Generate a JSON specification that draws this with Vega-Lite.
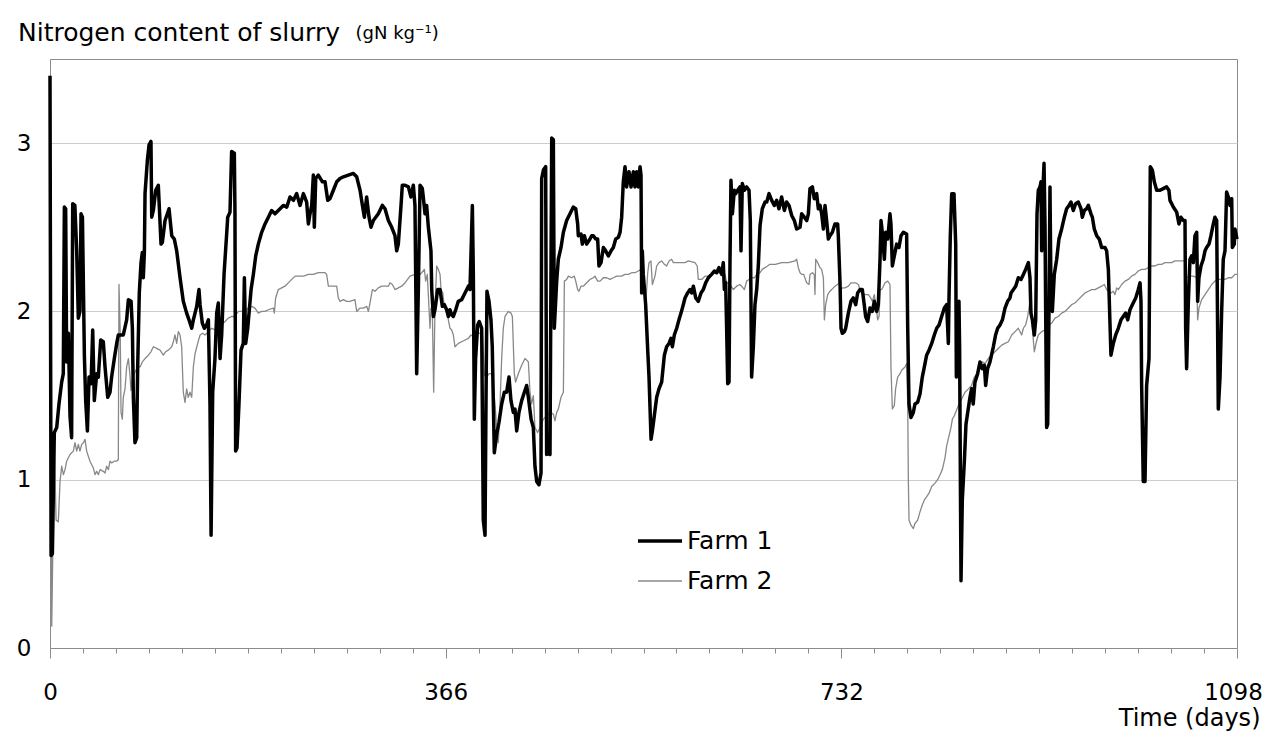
{
"$schema": "https://vega.github.io/schema/vega-lite/v6.json",
"width": 1187, "height": 589,
"autosize": {"type": "none"},
"padding": {"left": 50, "top": 59, "right": 27, "bottom": 94},
"background": "white",
"config": {"font": "DejaVu Sans", "view": {"stroke": "#8c8c8c", "strokeWidth": 1}},
"title": {"text": "Nitrogen content of slurry", "anchor": "start", "frame": "group", "dx": -32, "offset": -42, "baseline": "alphabetic", "fontSize": 25, "fontWeight": "normal", "color": "#000000", "font": "DejaVu Sans"},
"data": {"values": [
{"farm":"Farm 2","day":0,"n":3.4},{"farm":"Farm 2","day":1.6,"n":0.13},{"farm":"Farm 2","day":4,"n":1.22},{"farm":"Farm 2","day":5.6,"n":0.76},{"farm":"Farm 2","day":7.7,"n":0.75},{"farm":"Farm 2","day":9.3,"n":0.99},{"farm":"Farm 2","day":10.8,"n":1.08},{"farm":"Farm 2","day":12.4,"n":1.03},{"farm":"Farm 2","day":13.9,"n":1.06},{"farm":"Farm 2","day":15.4,"n":1.11},{"farm":"Farm 2","day":18.5,"n":1.15},{"farm":"Farm 2","day":21.6,"n":1.17},{"farm":"Farm 2","day":23.1,"n":1.22},{"farm":"Farm 2","day":24.7,"n":1.17},{"farm":"Farm 2","day":26.2,"n":1.21},{"farm":"Farm 2","day":27.7,"n":1.17},{"farm":"Farm 2","day":29.3,"n":1.21},{"farm":"Farm 2","day":30.9,"n":1.22},{"farm":"Farm 2","day":32.4,"n":1.24},{"farm":"Farm 2","day":33.9,"n":1.17},{"farm":"Farm 2","day":37,"n":1.11},{"farm":"Farm 2","day":40.1,"n":1.07},{"farm":"Farm 2","day":41.6,"n":1.03},{"farm":"Farm 2","day":43.2,"n":1.05},{"farm":"Farm 2","day":44.7,"n":1.03},{"farm":"Farm 2","day":46.3,"n":1.06},{"farm":"Farm 2","day":49.3,"n":1.05},{"farm":"Farm 2","day":50.9,"n":1.04},{"farm":"Farm 2","day":52.4,"n":1.08},{"farm":"Farm 2","day":54,"n":1.06},{"farm":"Farm 2","day":55.5,"n":1.11},{"farm":"Farm 2","day":57,"n":1.1},{"farm":"Farm 2","day":59.5,"n":1.11},{"farm":"Farm 2","day":61.7,"n":1.11},{"farm":"Farm 2","day":63.2,"n":1.12},{"farm":"Farm 2","day":63.8,"n":2.16},{"farm":"Farm 2","day":65,"n":1.86},{"farm":"Farm 2","day":65.7,"n":1.4},{"farm":"Farm 2","day":66.9,"n":1.36},{"farm":"Farm 2","day":67.8,"n":1.49},{"farm":"Farm 2","day":69.4,"n":1.54},{"farm":"Farm 2","day":70.9,"n":1.67},{"farm":"Farm 2","day":72.5,"n":1.72},{"farm":"Farm 2","day":74,"n":1.62},{"farm":"Farm 2","day":74.9,"n":1.53},{"farm":"Farm 2","day":76.2,"n":1.6},{"farm":"Farm 2","day":77.1,"n":1.61},{"farm":"Farm 2","day":78.6,"n":1.64},{"farm":"Farm 2","day":81.1,"n":1.67},{"farm":"Farm 2","day":83.3,"n":1.67},{"farm":"Farm 2","day":85.4,"n":1.7},{"farm":"Farm 2","day":87.9,"n":1.72},{"farm":"Farm 2","day":91,"n":1.74},{"farm":"Farm 2","day":93.4,"n":1.76},{"farm":"Farm 2","day":95.6,"n":1.79},{"farm":"Farm 2","day":98.7,"n":1.78},{"farm":"Farm 2","day":101.8,"n":1.77},{"farm":"Farm 2","day":104.8,"n":1.74},{"farm":"Farm 2","day":106.9,"n":1.76},{"farm":"Farm 2","day":109.5,"n":1.77},{"farm":"Farm 2","day":112.6,"n":1.79},{"farm":"Farm 2","day":114.1,"n":1.82},{"farm":"Farm 2","day":115.6,"n":1.86},{"farm":"Farm 2","day":117.2,"n":1.81},{"farm":"Farm 2","day":118.7,"n":1.88},{"farm":"Farm 2","day":120.3,"n":1.86},{"farm":"Farm 2","day":121.8,"n":1.79},{"farm":"Farm 2","day":123.3,"n":1.52},{"farm":"Farm 2","day":124.9,"n":1.46},{"farm":"Farm 2","day":126.4,"n":1.54},{"farm":"Farm 2","day":127.9,"n":1.49},{"farm":"Farm 2","day":129.5,"n":1.52},{"farm":"Farm 2","day":131.1,"n":1.49},{"farm":"Farm 2","day":132.6,"n":1.67},{"farm":"Farm 2","day":134.2,"n":1.75},{"farm":"Farm 2","day":136.6,"n":1.81},{"farm":"Farm 2","day":138.8,"n":1.86},{"farm":"Farm 2","day":141.2,"n":1.87},{"farm":"Farm 2","day":143.4,"n":1.86},{"farm":"Farm 2","day":146.5,"n":1.88},{"farm":"Farm 2","day":149.6,"n":1.9},{"farm":"Farm 2","day":152.6,"n":1.89},{"farm":"Farm 2","day":155.7,"n":1.91},{"farm":"Farm 2","day":158.8,"n":1.92},{"farm":"Farm 2","day":161.9,"n":1.94},{"farm":"Farm 2","day":165,"n":1.96},{"farm":"Farm 2","day":168,"n":1.97},{"farm":"Farm 2","day":171.1,"n":1.97},{"farm":"Farm 2","day":174.2,"n":2},{"farm":"Farm 2","day":177.3,"n":2},{"farm":"Farm 2","day":180.4,"n":2},{"farm":"Farm 2","day":183.4,"n":2.02},{"farm":"Farm 2","day":186.5,"n":2.03},{"farm":"Farm 2","day":189.6,"n":2.02},{"farm":"Farm 2","day":192.7,"n":1.99},{"farm":"Farm 2","day":195.8,"n":2},{"farm":"Farm 2","day":198.9,"n":2},{"farm":"Farm 2","day":202,"n":2.01},{"farm":"Farm 2","day":206.6,"n":2.02},{"farm":"Farm 2","day":207.5,"n":1.99},{"farm":"Farm 2","day":208.7,"n":2.08},{"farm":"Farm 2","day":211.2,"n":2.13},{"farm":"Farm 2","day":214.3,"n":2.14},{"farm":"Farm 2","day":217.4,"n":2.15},{"farm":"Farm 2","day":222,"n":2.18},{"farm":"Farm 2","day":226.7,"n":2.21},{"farm":"Farm 2","day":231.3,"n":2.21},{"farm":"Farm 2","day":234.4,"n":2.21},{"farm":"Farm 2","day":239,"n":2.22},{"farm":"Farm 2","day":243.6,"n":2.22},{"farm":"Farm 2","day":248.2,"n":2.23},{"farm":"Farm 2","day":254.4,"n":2.23},{"farm":"Farm 2","day":255.9,"n":2.22},{"farm":"Farm 2","day":257.5,"n":2.15},{"farm":"Farm 2","day":262.1,"n":2.15},{"farm":"Farm 2","day":265.2,"n":2.15},{"farm":"Farm 2","day":266.7,"n":2.08},{"farm":"Farm 2","day":268.3,"n":2.06},{"farm":"Farm 2","day":271.4,"n":2.07},{"farm":"Farm 2","day":274.4,"n":2.06},{"farm":"Farm 2","day":277.5,"n":2.06},{"farm":"Farm 2","day":282.1,"n":2.07},{"farm":"Farm 2","day":283.7,"n":2},{"farm":"Farm 2","day":286.8,"n":2.02},{"farm":"Farm 2","day":289.9,"n":2.02},{"farm":"Farm 2","day":293,"n":2.03},{"farm":"Farm 2","day":294.5,"n":2},{"farm":"Farm 2","day":296,"n":2.05},{"farm":"Farm 2","day":298.2,"n":2.13},{"farm":"Farm 2","day":300.6,"n":2.12},{"farm":"Farm 2","day":303.7,"n":2.14},{"farm":"Farm 2","day":306.8,"n":2.15},{"farm":"Farm 2","day":309.9,"n":2.15},{"farm":"Farm 2","day":313,"n":2.15},{"farm":"Farm 2","day":314.5,"n":2.17},{"farm":"Farm 2","day":316.7,"n":2.16},{"farm":"Farm 2","day":319.1,"n":2.13},{"farm":"Farm 2","day":322.2,"n":2.14},{"farm":"Farm 2","day":325.3,"n":2.15},{"farm":"Farm 2","day":328.4,"n":2.17},{"farm":"Farm 2","day":333,"n":2.21},{"farm":"Farm 2","day":337.6,"n":2.22},{"farm":"Farm 2","day":342.3,"n":2.22},{"farm":"Farm 2","day":343.8,"n":2.23},{"farm":"Farm 2","day":346.3,"n":2.25},{"farm":"Farm 2","day":347.5,"n":2.18},{"farm":"Farm 2","day":349,"n":2.22},{"farm":"Farm 2","day":350.6,"n":2.02},{"farm":"Farm 2","day":351.5,"n":1.9},{"farm":"Farm 2","day":352.4,"n":2.02},{"farm":"Farm 2","day":353.7,"n":1.99},{"farm":"Farm 2","day":354.9,"n":1.52},{"farm":"Farm 2","day":356.1,"n":2.02},{"farm":"Farm 2","day":357.7,"n":2.27},{"farm":"Farm 2","day":359.2,"n":2.25},{"farm":"Farm 2","day":360.8,"n":2.22},{"farm":"Farm 2","day":361.7,"n":2.13},{"farm":"Farm 2","day":363.3,"n":2.11},{"farm":"Farm 2","day":364.8,"n":2.02},{"farm":"Farm 2","day":367,"n":2.02},{"farm":"Farm 2","day":368.5,"n":1.95},{"farm":"Farm 2","day":370,"n":1.9},{"farm":"Farm 2","day":371.6,"n":1.89},{"farm":"Farm 2","day":373.1,"n":1.86},{"farm":"Farm 2","day":374.6,"n":1.79},{"farm":"Farm 2","day":376.2,"n":1.8},{"farm":"Farm 2","day":377.7,"n":1.81},{"farm":"Farm 2","day":380.8,"n":1.82},{"farm":"Farm 2","day":383.9,"n":1.83},{"farm":"Farm 2","day":387,"n":1.84},{"farm":"Farm 2","day":389.4,"n":1.86},{"farm":"Farm 2","day":391.6,"n":1.85},{"farm":"Farm 2","day":393.1,"n":1.87},{"farm":"Farm 2","day":397.8,"n":1.87},{"farm":"Farm 2","day":399.9,"n":1.88},{"farm":"Farm 2","day":401.8,"n":1.62},{"farm":"Farm 2","day":404,"n":1.61},{"farm":"Farm 2","day":406.1,"n":1.63},{"farm":"Farm 2","day":408,"n":1.63},{"farm":"Farm 2","day":409.2,"n":1.61},{"farm":"Farm 2","day":411.6,"n":1.45},{"farm":"Farm 2","day":413.2,"n":1.31},{"farm":"Farm 2","day":414.7,"n":1.22},{"farm":"Farm 2","day":416.3,"n":1.45},{"farm":"Farm 2","day":417.8,"n":1.72},{"farm":"Farm 2","day":419.3,"n":1.9},{"farm":"Farm 2","day":420.9,"n":1.97},{"farm":"Farm 2","day":424,"n":2},{"farm":"Farm 2","day":426.4,"n":1.99},{"farm":"Farm 2","day":427.7,"n":1.97},{"farm":"Farm 2","day":429.5,"n":1.63},{"farm":"Farm 2","day":430.7,"n":1.58},{"farm":"Farm 2","day":433.2,"n":1.63},{"farm":"Farm 2","day":436.3,"n":1.68},{"farm":"Farm 2","day":439.4,"n":1.72},{"farm":"Farm 2","day":442.5,"n":1.7},{"farm":"Farm 2","day":444,"n":1.52},{"farm":"Farm 2","day":445.5,"n":1.45},{"farm":"Farm 2","day":447.1,"n":1.5},{"farm":"Farm 2","day":448.6,"n":1.31},{"farm":"Farm 2","day":451.1,"n":1.28},{"farm":"Farm 2","day":453.3,"n":1.31},{"farm":"Farm 2","day":456.4,"n":1.36},{"farm":"Farm 2","day":459.4,"n":1.38},{"farm":"Farm 2","day":462.5,"n":1.4},{"farm":"Farm 2","day":465.6,"n":1.39},{"farm":"Farm 2","day":467.1,"n":1.35},{"farm":"Farm 2","day":468.7,"n":1.4},{"farm":"Farm 2","day":470.2,"n":1.42},{"farm":"Farm 2","day":472.7,"n":1.49},{"farm":"Farm 2","day":474.9,"n":1.52},{"farm":"Farm 2","day":475.8,"n":2.18},{"farm":"Farm 2","day":477.9,"n":2.19},{"farm":"Farm 2","day":479.5,"n":2.21},{"farm":"Farm 2","day":482.5,"n":2.2},{"farm":"Farm 2","day":485,"n":2.21},{"farm":"Farm 2","day":486.3,"n":2.18},{"farm":"Farm 2","day":488.1,"n":2.13},{"farm":"Farm 2","day":489.3,"n":2.12},{"farm":"Farm 2","day":491.2,"n":2.15},{"farm":"Farm 2","day":493.4,"n":2.15},{"farm":"Farm 2","day":496.4,"n":2.17},{"farm":"Farm 2","day":499.5,"n":2.19},{"farm":"Farm 2","day":502.6,"n":2.2},{"farm":"Farm 2","day":504.1,"n":2.21},{"farm":"Farm 2","day":506.6,"n":2.18},{"farm":"Farm 2","day":508.8,"n":2.18},{"farm":"Farm 2","day":511.9,"n":2.2},{"farm":"Farm 2","day":514.9,"n":2.2},{"farm":"Farm 2","day":518,"n":2.19},{"farm":"Farm 2","day":521.1,"n":2.2},{"farm":"Farm 2","day":524.2,"n":2.21},{"farm":"Farm 2","day":528.8,"n":2.21},{"farm":"Farm 2","day":531.9,"n":2.22},{"farm":"Farm 2","day":535,"n":2.22},{"farm":"Farm 2","day":538.1,"n":2.23},{"farm":"Farm 2","day":541.1,"n":2.23},{"farm":"Farm 2","day":544.2,"n":2.24},{"farm":"Farm 2","day":546.7,"n":2.25},{"farm":"Farm 2","day":548.8,"n":2.23},{"farm":"Farm 2","day":551,"n":2.04},{"farm":"Farm 2","day":552.9,"n":2.23},{"farm":"Farm 2","day":554.1,"n":2.29},{"farm":"Farm 2","day":555.9,"n":2.3},{"farm":"Farm 2","day":557.2,"n":2.16},{"farm":"Farm 2","day":559.6,"n":2.21},{"farm":"Farm 2","day":561.2,"n":2.27},{"farm":"Farm 2","day":563.3,"n":2.29},{"farm":"Farm 2","day":565.8,"n":2.3},{"farm":"Farm 2","day":568.3,"n":2.28},{"farm":"Farm 2","day":570.4,"n":2.27},{"farm":"Farm 2","day":572.6,"n":2.3},{"farm":"Farm 2","day":575,"n":2.31},{"farm":"Farm 2","day":576.6,"n":2.29},{"farm":"Farm 2","day":581.2,"n":2.29},{"farm":"Farm 2","day":587.4,"n":2.29},{"farm":"Farm 2","day":590.5,"n":2.3},{"farm":"Farm 2","day":596.6,"n":2.29},{"farm":"Farm 2","day":598.7,"n":2.27},{"farm":"Farm 2","day":599.7,"n":2.19},{"farm":"Farm 2","day":602.8,"n":2.19},{"farm":"Farm 2","day":605.9,"n":2.21},{"farm":"Farm 2","day":609,"n":2.21},{"farm":"Farm 2","day":612,"n":2.22},{"farm":"Farm 2","day":615.1,"n":2.23},{"farm":"Farm 2","day":621.3,"n":2.23},{"farm":"Farm 2","day":624.4,"n":2.22},{"farm":"Farm 2","day":626,"n":2.17},{"farm":"Farm 2","day":628.1,"n":2.17},{"farm":"Farm 2","day":630,"n":2.15},{"farm":"Farm 2","day":632.1,"n":2.13},{"farm":"Farm 2","day":635.2,"n":2.15},{"farm":"Farm 2","day":638.2,"n":2.16},{"farm":"Farm 2","day":639.8,"n":2.15},{"farm":"Farm 2","day":642.3,"n":2.13},{"farm":"Farm 2","day":644.4,"n":2.18},{"farm":"Farm 2","day":646.6,"n":2.19},{"farm":"Farm 2","day":649,"n":2.2},{"farm":"Farm 2","day":651.5,"n":2.2},{"farm":"Farm 2","day":653.7,"n":2.22},{"farm":"Farm 2","day":656.8,"n":2.23},{"farm":"Farm 2","day":658.9,"n":2.25},{"farm":"Farm 2","day":661.4,"n":2.26},{"farm":"Farm 2","day":666,"n":2.28},{"farm":"Farm 2","day":671,"n":2.28},{"farm":"Farm 2","day":676.8,"n":2.29},{"farm":"Farm 2","day":683,"n":2.29},{"farm":"Farm 2","day":689.1,"n":2.3},{"farm":"Farm 2","day":690.7,"n":2.31},{"farm":"Farm 2","day":692.2,"n":2.26},{"farm":"Farm 2","day":693.8,"n":2.23},{"farm":"Farm 2","day":695.3,"n":2.22},{"farm":"Farm 2","day":697.2,"n":2.22},{"farm":"Farm 2","day":699.9,"n":2.17},{"farm":"Farm 2","day":702.1,"n":2.16},{"farm":"Farm 2","day":703,"n":2.22},{"farm":"Farm 2","day":705.2,"n":2.23},{"farm":"Farm 2","day":707,"n":2.22},{"farm":"Farm 2","day":707.6,"n":2.1},{"farm":"Farm 2","day":708.3,"n":2.31},{"farm":"Farm 2","day":710.1,"n":2.29},{"farm":"Farm 2","day":712.3,"n":2.26},{"farm":"Farm 2","day":713.8,"n":2.25},{"farm":"Farm 2","day":715.4,"n":2.2},{"farm":"Farm 2","day":716.3,"n":1.95},{"farm":"Farm 2","day":717.5,"n":2.04},{"farm":"Farm 2","day":719.4,"n":2.1},{"farm":"Farm 2","day":721.5,"n":2.12},{"farm":"Farm 2","day":724.6,"n":2.14},{"farm":"Farm 2","day":726.1,"n":2.15},{"farm":"Farm 2","day":728.6,"n":2.16},{"farm":"Farm 2","day":730.1,"n":2.17},{"farm":"Farm 2","day":731.7,"n":2.13},{"farm":"Farm 2","day":733,"n":2.14},{"farm":"Farm 2","day":735.4,"n":2.14},{"farm":"Farm 2","day":738.5,"n":2.15},{"farm":"Farm 2","day":740.9,"n":2.17},{"farm":"Farm 2","day":745.3,"n":2.17},{"farm":"Farm 2","day":747.7,"n":2.16},{"farm":"Farm 2","day":749.3,"n":2.13},{"farm":"Farm 2","day":750.8,"n":2.11},{"farm":"Farm 2","day":753.9,"n":2.1},{"farm":"Farm 2","day":757,"n":2.1},{"farm":"Farm 2","day":759.2,"n":2.08},{"farm":"Farm 2","day":760.7,"n":2.06},{"farm":"Farm 2","day":762.5,"n":2.1},{"farm":"Farm 2","day":764.7,"n":2},{"farm":"Farm 2","day":765.6,"n":1.95},{"farm":"Farm 2","day":766.9,"n":1.97},{"farm":"Farm 2","day":767.8,"n":2.13},{"farm":"Farm 2","day":769.3,"n":2.13},{"farm":"Farm 2","day":770.9,"n":2.15},{"farm":"Farm 2","day":772.4,"n":2.17},{"farm":"Farm 2","day":774.9,"n":2.18},{"farm":"Farm 2","day":777,"n":2.16},{"farm":"Farm 2","day":777.9,"n":1.67},{"farm":"Farm 2","day":779.2,"n":1.42},{"farm":"Farm 2","day":781,"n":1.44},{"farm":"Farm 2","day":782.2,"n":1.54},{"farm":"Farm 2","day":784.1,"n":1.61},{"farm":"Farm 2","day":786.3,"n":1.63},{"farm":"Farm 2","day":787.8,"n":1.65},{"farm":"Farm 2","day":790.9,"n":1.67},{"farm":"Farm 2","day":792.4,"n":1.69},{"farm":"Farm 2","day":793.4,"n":1.45},{"farm":"Farm 2","day":794,"n":0.99},{"farm":"Farm 2","day":794.6,"n":0.76},{"farm":"Farm 2","day":796.4,"n":0.73},{"farm":"Farm 2","day":798.6,"n":0.71},{"farm":"Farm 2","day":800.1,"n":0.74},{"farm":"Farm 2","day":802.6,"n":0.76},{"farm":"Farm 2","day":804.8,"n":0.81},{"farm":"Farm 2","day":806.9,"n":0.85},{"farm":"Farm 2","day":808.8,"n":0.88},{"farm":"Farm 2","day":811,"n":0.9},{"farm":"Farm 2","day":813.1,"n":0.92},{"farm":"Farm 2","day":815.6,"n":0.96},{"farm":"Farm 2","day":818.6,"n":0.98},{"farm":"Farm 2","day":821.1,"n":1},{"farm":"Farm 2","day":823.3,"n":1.03},{"farm":"Farm 2","day":825.4,"n":1.06},{"farm":"Farm 2","day":827.9,"n":1.13},{"farm":"Farm 2","day":829.4,"n":1.2},{"farm":"Farm 2","day":831.6,"n":1.26},{"farm":"Farm 2","day":833.4,"n":1.31},{"farm":"Farm 2","day":834.7,"n":1.36},{"farm":"Farm 2","day":836.5,"n":1.38},{"farm":"Farm 2","day":837.7,"n":1.4},{"farm":"Farm 2","day":840.2,"n":1.44},{"farm":"Farm 2","day":843.3,"n":1.48},{"farm":"Farm 2","day":846.4,"n":1.52},{"farm":"Farm 2","day":849.5,"n":1.54},{"farm":"Farm 2","day":852.5,"n":1.56},{"farm":"Farm 2","day":855,"n":1.61},{"farm":"Farm 2","day":857.4,"n":1.63},{"farm":"Farm 2","day":860.3,"n":1.68},{"farm":"Farm 2","day":862.4,"n":1.7},{"farm":"Farm 2","day":864.9,"n":1.69},{"farm":"Farm 2","day":867.9,"n":1.72},{"farm":"Farm 2","day":871,"n":1.74},{"farm":"Farm 2","day":874.1,"n":1.76},{"farm":"Farm 2","day":877.2,"n":1.78},{"farm":"Farm 2","day":880.3,"n":1.8},{"farm":"Farm 2","day":883.4,"n":1.81},{"farm":"Farm 2","day":886.5,"n":1.82},{"farm":"Farm 2","day":889.6,"n":1.86},{"farm":"Farm 2","day":892.7,"n":1.88},{"farm":"Farm 2","day":895.7,"n":1.9},{"farm":"Farm 2","day":898.8,"n":1.86},{"farm":"Farm 2","day":900.4,"n":1.9},{"farm":"Farm 2","day":902.5,"n":1.92},{"farm":"Farm 2","day":904.4,"n":1.97},{"farm":"Farm 2","day":906.5,"n":2.06},{"farm":"Farm 2","day":907.4,"n":2.06},{"farm":"Farm 2","day":908.7,"n":1.9},{"farm":"Farm 2","day":910.5,"n":1.76},{"farm":"Farm 2","day":912.4,"n":1.82},{"farm":"Farm 2","day":914.2,"n":1.86},{"farm":"Farm 2","day":917.3,"n":1.88},{"farm":"Farm 2","day":920.4,"n":1.89},{"farm":"Farm 2","day":923.5,"n":1.92},{"farm":"Farm 2","day":926.6,"n":1.93},{"farm":"Farm 2","day":929.6,"n":1.96},{"farm":"Farm 2","day":932.7,"n":1.97},{"farm":"Farm 2","day":935.8,"n":1.99},{"farm":"Farm 2","day":938.9,"n":2},{"farm":"Farm 2","day":942,"n":2.02},{"farm":"Farm 2","day":945,"n":2.04},{"farm":"Farm 2","day":948.1,"n":2.05},{"farm":"Farm 2","day":951.2,"n":2.07},{"farm":"Farm 2","day":954.3,"n":2.09},{"farm":"Farm 2","day":957.4,"n":2.11},{"farm":"Farm 2","day":960.5,"n":2.12},{"farm":"Farm 2","day":963.6,"n":2.13},{"farm":"Farm 2","day":966.6,"n":2.13},{"farm":"Farm 2","day":969.7,"n":2.14},{"farm":"Farm 2","day":972.8,"n":2.15},{"farm":"Farm 2","day":975.3,"n":2.16},{"farm":"Farm 2","day":977.4,"n":2.13},{"farm":"Farm 2","day":979,"n":2.12},{"farm":"Farm 2","day":981.4,"n":2.11},{"farm":"Farm 2","day":983.6,"n":2.12},{"farm":"Farm 2","day":985.1,"n":2.1},{"farm":"Farm 2","day":986.7,"n":2.14},{"farm":"Farm 2","day":988.2,"n":2.13},{"farm":"Farm 2","day":991.3,"n":2.16},{"farm":"Farm 2","day":994.4,"n":2.18},{"farm":"Farm 2","day":997.5,"n":2.19},{"farm":"Farm 2","day":1000.5,"n":2.21},{"farm":"Farm 2","day":1003.6,"n":2.22},{"farm":"Farm 2","day":1006.7,"n":2.24},{"farm":"Farm 2","day":1009.8,"n":2.25},{"farm":"Farm 2","day":1012.9,"n":2.25},{"farm":"Farm 2","day":1016,"n":2.26},{"farm":"Farm 2","day":1019,"n":2.27},{"farm":"Farm 2","day":1022.1,"n":2.27},{"farm":"Farm 2","day":1025.2,"n":2.28},{"farm":"Farm 2","day":1028.3,"n":2.28},{"farm":"Farm 2","day":1031.4,"n":2.29},{"farm":"Farm 2","day":1037.6,"n":2.29},{"farm":"Farm 2","day":1040.6,"n":2.3},{"farm":"Farm 2","day":1049.9,"n":2.3},{"farm":"Farm 2","day":1051.4,"n":2.2},{"farm":"Farm 2","day":1054.5,"n":2.21},{"farm":"Farm 2","day":1057.6,"n":2.21},{"farm":"Farm 2","day":1060.7,"n":2.2},{"farm":"Farm 2","day":1061.6,"n":1.95},{"farm":"Farm 2","day":1062.8,"n":2.02},{"farm":"Farm 2","day":1065.3,"n":2.07},{"farm":"Farm 2","day":1068.4,"n":2.1},{"farm":"Farm 2","day":1071.5,"n":2.13},{"farm":"Farm 2","day":1074.6,"n":2.16},{"farm":"Farm 2","day":1077.6,"n":2.18},{"farm":"Farm 2","day":1080.7,"n":2.19},{"farm":"Farm 2","day":1086.9,"n":2.19},{"farm":"Farm 2","day":1090,"n":2.2},{"farm":"Farm 2","day":1093.1,"n":2.2},{"farm":"Farm 2","day":1096.1,"n":2.22},{"farm":"Farm 2","day":1098,"n":2.22},
{"farm":"Farm 1","day":0,"n":3.4},{"farm":"Farm 1","day":1,"n":0.55},{"farm":"Farm 1","day":2.2,"n":0.56},{"farm":"Farm 1","day":4,"n":1.28},{"farm":"Farm 1","day":6.2,"n":1.31},{"farm":"Farm 1","day":8.3,"n":1.45},{"farm":"Farm 1","day":10.8,"n":1.58},{"farm":"Farm 1","day":12.3,"n":1.63},{"farm":"Farm 1","day":13.3,"n":2.62},{"farm":"Farm 1","day":14.5,"n":2.61},{"farm":"Farm 1","day":15.4,"n":1.7},{"farm":"Farm 1","day":17,"n":1.87},{"farm":"Farm 1","day":18.5,"n":1.38},{"farm":"Farm 1","day":20,"n":1.25},{"farm":"Farm 1","day":21,"n":2.64},{"farm":"Farm 1","day":23,"n":2.63},{"farm":"Farm 1","day":24.7,"n":2.36},{"farm":"Farm 1","day":26.2,"n":1.96},{"farm":"Farm 1","day":27.7,"n":2},{"farm":"Farm 1","day":28.7,"n":2.58},{"farm":"Farm 1","day":30,"n":2.56},{"farm":"Farm 1","day":31.8,"n":1.74},{"farm":"Farm 1","day":33,"n":1.47},{"farm":"Farm 1","day":34.6,"n":1.29},{"farm":"Farm 1","day":36.1,"n":1.61},{"farm":"Farm 1","day":38,"n":1.57},{"farm":"Farm 1","day":39.5,"n":1.89},{"farm":"Farm 1","day":41,"n":1.47},{"farm":"Farm 1","day":43.2,"n":1.63},{"farm":"Farm 1","day":44.7,"n":1.61},{"farm":"Farm 1","day":46.9,"n":1.83},{"farm":"Farm 1","day":49.3,"n":1.82},{"farm":"Farm 1","day":50.9,"n":1.67},{"farm":"Farm 1","day":53.4,"n":1.49},{"farm":"Farm 1","day":55.5,"n":1.52},{"farm":"Farm 1","day":57,"n":1.61},{"farm":"Farm 1","day":59.5,"n":1.72},{"farm":"Farm 1","day":61.7,"n":1.81},{"farm":"Farm 1","day":63.2,"n":1.86},{"farm":"Farm 1","day":67.8,"n":1.86},{"farm":"Farm 1","day":70.9,"n":1.95},{"farm":"Farm 1","day":72.5,"n":2.07},{"farm":"Farm 1","day":75,"n":2.06},{"farm":"Farm 1","day":76.2,"n":1.9},{"farm":"Farm 1","day":77.1,"n":1.49},{"farm":"Farm 1","day":78.6,"n":1.22},{"farm":"Farm 1","day":80.2,"n":1.25},{"farm":"Farm 1","day":81.1,"n":1.67},{"farm":"Farm 1","day":82.6,"n":2.11},{"farm":"Farm 1","day":84.2,"n":2.29},{"farm":"Farm 1","day":85.4,"n":2.35},{"farm":"Farm 1","day":86.3,"n":2.2},{"farm":"Farm 1","day":87.3,"n":2.35},{"farm":"Farm 1","day":87.9,"n":2.7},{"farm":"Farm 1","day":90.1,"n":2.9},{"farm":"Farm 1","day":91.6,"n":2.99},{"farm":"Farm 1","day":93.4,"n":3.01},{"farm":"Farm 1","day":94.1,"n":2.56},{"farm":"Farm 1","day":95.6,"n":2.6},{"farm":"Farm 1","day":97.8,"n":2.72},{"farm":"Farm 1","day":100.2,"n":2.75},{"farm":"Farm 1","day":102.7,"n":2.4},{"farm":"Farm 1","day":103.9,"n":2.41},{"farm":"Farm 1","day":106.4,"n":2.54},{"farm":"Farm 1","day":110.1,"n":2.61},{"farm":"Farm 1","day":112.6,"n":2.45},{"farm":"Farm 1","day":115,"n":2.43},{"farm":"Farm 1","day":117.2,"n":2.36},{"farm":"Farm 1","day":120.3,"n":2.2},{"farm":"Farm 1","day":123.3,"n":2.06},{"farm":"Farm 1","day":126.4,"n":1.99},{"farm":"Farm 1","day":128.6,"n":1.95},{"farm":"Farm 1","day":131.1,"n":1.9},{"farm":"Farm 1","day":132.6,"n":1.95},{"farm":"Farm 1","day":135.7,"n":2.03},{"farm":"Farm 1","day":137.8,"n":2.13},{"farm":"Farm 1","day":138.8,"n":2.04},{"farm":"Farm 1","day":140.9,"n":1.93},{"farm":"Farm 1","day":142.8,"n":1.9},{"farm":"Farm 1","day":144.9,"n":1.92},{"farm":"Farm 1","day":146.5,"n":1.95},{"farm":"Farm 1","day":148,"n":1.45},{"farm":"Farm 1","day":149,"n":0.67},{"farm":"Farm 1","day":150.5,"n":1.52},{"farm":"Farm 1","day":152.6,"n":1.72},{"farm":"Farm 1","day":154.2,"n":1.99},{"farm":"Farm 1","day":155.7,"n":2.05},{"farm":"Farm 1","day":157.3,"n":1.72},{"farm":"Farm 1","day":158.8,"n":1.86},{"farm":"Farm 1","day":161,"n":2.22},{"farm":"Farm 1","day":163.4,"n":2.46},{"farm":"Farm 1","day":164.4,"n":2.56},{"farm":"Farm 1","day":166.5,"n":2.59},{"farm":"Farm 1","day":168,"n":2.95},{"farm":"Farm 1","day":170.5,"n":2.94},{"farm":"Farm 1","day":171.1,"n":2.59},{"farm":"Farm 1","day":171.7,"n":1.17},{"farm":"Farm 1","day":173,"n":1.19},{"farm":"Farm 1","day":174.8,"n":1.45},{"farm":"Farm 1","day":176.7,"n":1.77},{"farm":"Farm 1","day":178.8,"n":1.81},{"farm":"Farm 1","day":179.8,"n":2.2},{"farm":"Farm 1","day":181,"n":1.81},{"farm":"Farm 1","day":182.9,"n":1.9},{"farm":"Farm 1","day":184.1,"n":1.99},{"farm":"Farm 1","day":186,"n":2.13},{"farm":"Farm 1","day":188.1,"n":2.22},{"farm":"Farm 1","day":190.3,"n":2.33},{"farm":"Farm 1","day":192.7,"n":2.4},{"farm":"Farm 1","day":195.8,"n":2.47},{"farm":"Farm 1","day":198.9,"n":2.52},{"farm":"Farm 1","day":202,"n":2.56},{"farm":"Farm 1","day":205,"n":2.6},{"farm":"Farm 1","day":208.1,"n":2.58},{"farm":"Farm 1","day":211.2,"n":2.6},{"farm":"Farm 1","day":215.8,"n":2.63},{"farm":"Farm 1","day":219,"n":2.62},{"farm":"Farm 1","day":222,"n":2.68},{"farm":"Farm 1","day":225.2,"n":2.66},{"farm":"Farm 1","day":228.2,"n":2.7},{"farm":"Farm 1","day":231.3,"n":2.63},{"farm":"Farm 1","day":234.4,"n":2.7},{"farm":"Farm 1","day":237.4,"n":2.65},{"farm":"Farm 1","day":239,"n":2.52},{"farm":"Farm 1","day":240.5,"n":2.58},{"farm":"Farm 1","day":242.1,"n":2.63},{"farm":"Farm 1","day":243.6,"n":2.81},{"farm":"Farm 1","day":244.5,"n":2.5},{"farm":"Farm 1","day":245.8,"n":2.79},{"farm":"Farm 1","day":248.2,"n":2.81},{"farm":"Farm 1","day":252,"n":2.77},{"farm":"Farm 1","day":254.4,"n":2.77},{"farm":"Farm 1","day":256.9,"n":2.66},{"farm":"Farm 1","day":259,"n":2.67},{"farm":"Farm 1","day":262.1,"n":2.72},{"farm":"Farm 1","day":265.2,"n":2.77},{"farm":"Farm 1","day":268.3,"n":2.79},{"farm":"Farm 1","day":271.4,"n":2.8},{"farm":"Farm 1","day":276,"n":2.81},{"farm":"Farm 1","day":280.6,"n":2.82},{"farm":"Farm 1","day":283.7,"n":2.8},{"farm":"Farm 1","day":286.8,"n":2.72},{"farm":"Farm 1","day":289,"n":2.63},{"farm":"Farm 1","day":290.8,"n":2.56},{"farm":"Farm 1","day":292.9,"n":2.68},{"farm":"Farm 1","day":295.1,"n":2.56},{"farm":"Farm 1","day":296.9,"n":2.5},{"farm":"Farm 1","day":299.1,"n":2.54},{"farm":"Farm 1","day":303.7,"n":2.58},{"farm":"Farm 1","day":307.4,"n":2.63},{"farm":"Farm 1","day":309.9,"n":2.61},{"farm":"Farm 1","day":313,"n":2.54},{"farm":"Farm 1","day":316.1,"n":2.5},{"farm":"Farm 1","day":319.1,"n":2.45},{"farm":"Farm 1","day":320.7,"n":2.36},{"farm":"Farm 1","day":322.2,"n":2.4},{"farm":"Farm 1","day":324.7,"n":2.63},{"farm":"Farm 1","day":325.9,"n":2.75},{"farm":"Farm 1","day":328.4,"n":2.75},{"farm":"Farm 1","day":331.5,"n":2.74},{"farm":"Farm 1","day":333.9,"n":2.68},{"farm":"Farm 1","day":336.1,"n":2.75},{"farm":"Farm 1","day":337.6,"n":2.63},{"farm":"Farm 1","day":339.2,"n":1.63},{"farm":"Farm 1","day":340.7,"n":2.12},{"farm":"Farm 1","day":342.3,"n":2.75},{"farm":"Farm 1","day":344.4,"n":2.73},{"farm":"Farm 1","day":345.3,"n":2.68},{"farm":"Farm 1","day":346.9,"n":2.58},{"farm":"Farm 1","day":348.4,"n":2.63},{"farm":"Farm 1","day":350,"n":2.5},{"farm":"Farm 1","day":352.4,"n":2.36},{"farm":"Farm 1","day":353.1,"n":2.13},{"farm":"Farm 1","day":354.6,"n":1.97},{"farm":"Farm 1","day":356.1,"n":2.01},{"farm":"Farm 1","day":358.6,"n":2.13},{"farm":"Farm 1","day":360.8,"n":2.13},{"farm":"Farm 1","day":362.9,"n":2.03},{"farm":"Farm 1","day":364.8,"n":2.04},{"farm":"Farm 1","day":366.9,"n":2.01},{"farm":"Farm 1","day":368.5,"n":1.97},{"farm":"Farm 1","day":370,"n":2.01},{"farm":"Farm 1","day":371.6,"n":1.98},{"farm":"Farm 1","day":373.1,"n":1.97},{"farm":"Farm 1","day":375.3,"n":2.01},{"farm":"Farm 1","day":377.7,"n":2.06},{"farm":"Farm 1","day":380.8,"n":2.07},{"farm":"Farm 1","day":383.9,"n":2.11},{"farm":"Farm 1","day":387,"n":2.15},{"farm":"Farm 1","day":388.5,"n":2.13},{"farm":"Farm 1","day":390.7,"n":2.63},{"farm":"Farm 1","day":391.6,"n":2.22},{"farm":"Farm 1","day":392.5,"n":1.36},{"farm":"Farm 1","day":393.7,"n":1.72},{"farm":"Farm 1","day":395.6,"n":1.92},{"farm":"Farm 1","day":397.1,"n":1.94},{"farm":"Farm 1","day":399.3,"n":1.9},{"farm":"Farm 1","day":400.8,"n":0.76},{"farm":"Farm 1","day":402.4,"n":0.67},{"farm":"Farm 1","day":403.3,"n":1.45},{"farm":"Farm 1","day":404.2,"n":2.12},{"farm":"Farm 1","day":406.1,"n":2.06},{"farm":"Farm 1","day":407.9,"n":1.95},{"farm":"Farm 1","day":409.1,"n":1.79},{"farm":"Farm 1","day":411,"n":1.16},{"farm":"Farm 1","day":413.2,"n":1.27},{"farm":"Farm 1","day":415.3,"n":1.34},{"farm":"Farm 1","day":417.8,"n":1.45},{"farm":"Farm 1","day":420.3,"n":1.52},{"farm":"Farm 1","day":422.4,"n":1.52},{"farm":"Farm 1","day":424.6,"n":1.61},{"farm":"Farm 1","day":426.4,"n":1.47},{"farm":"Farm 1","day":428.6,"n":1.4},{"farm":"Farm 1","day":430.1,"n":1.42},{"farm":"Farm 1","day":431.7,"n":1.29},{"farm":"Farm 1","day":433.8,"n":1.4},{"farm":"Farm 1","day":436.3,"n":1.47},{"farm":"Farm 1","day":438.8,"n":1.52},{"farm":"Farm 1","day":440.9,"n":1.56},{"farm":"Farm 1","day":442.5,"n":1.49},{"farm":"Farm 1","day":445,"n":1.36},{"farm":"Farm 1","day":447.1,"n":1.31},{"farm":"Farm 1","day":448.6,"n":1.08},{"farm":"Farm 1","day":450.2,"n":0.99},{"farm":"Farm 1","day":452.3,"n":0.97},{"farm":"Farm 1","day":454.2,"n":1.04},{"farm":"Farm 1","day":454.8,"n":2.79},{"farm":"Farm 1","day":456.4,"n":2.84},{"farm":"Farm 1","day":458.5,"n":2.86},{"farm":"Farm 1","day":459.4,"n":1.15},{"farm":"Farm 1","day":461,"n":1.16},{"farm":"Farm 1","day":462.5,"n":1.15},{"farm":"Farm 1","day":464.1,"n":3.03},{"farm":"Farm 1","day":465.6,"n":3.02},{"farm":"Farm 1","day":466.5,"n":1.9},{"farm":"Farm 1","day":468.7,"n":2.18},{"farm":"Farm 1","day":470.2,"n":2.31},{"farm":"Farm 1","day":472.7,"n":2.38},{"farm":"Farm 1","day":474.9,"n":2.47},{"farm":"Farm 1","day":477.9,"n":2.54},{"farm":"Farm 1","day":481,"n":2.58},{"farm":"Farm 1","day":484.1,"n":2.62},{"farm":"Farm 1","day":486.3,"n":2.61},{"farm":"Farm 1","day":488.1,"n":2.52},{"farm":"Farm 1","day":488.7,"n":2.45},{"farm":"Farm 1","day":491.2,"n":2.46},{"farm":"Farm 1","day":492.4,"n":2.4},{"farm":"Farm 1","day":494.3,"n":2.45},{"farm":"Farm 1","day":496.4,"n":2.4},{"farm":"Farm 1","day":499.5,"n":2.43},{"farm":"Farm 1","day":501.1,"n":2.45},{"farm":"Farm 1","day":502.6,"n":2.45},{"farm":"Farm 1","day":504.8,"n":2.43},{"farm":"Farm 1","day":506.6,"n":2.43},{"farm":"Farm 1","day":507.8,"n":2.27},{"farm":"Farm 1","day":509.7,"n":2.29},{"farm":"Farm 1","day":511.9,"n":2.38},{"farm":"Farm 1","day":514,"n":2.36},{"farm":"Farm 1","day":516.5,"n":2.33},{"farm":"Farm 1","day":519,"n":2.36},{"farm":"Farm 1","day":521.1,"n":2.38},{"farm":"Farm 1","day":523.3,"n":2.43},{"farm":"Farm 1","day":525.7,"n":2.44},{"farm":"Farm 1","day":527.3,"n":2.47},{"farm":"Farm 1","day":528.8,"n":2.56},{"farm":"Farm 1","day":530.3,"n":2.77},{"farm":"Farm 1","day":531.9,"n":2.86},{"farm":"Farm 1","day":533.4,"n":2.74},{"farm":"Farm 1","day":535.6,"n":2.83},{"farm":"Farm 1","day":537.5,"n":2.74},{"farm":"Farm 1","day":539.6,"n":2.83},{"farm":"Farm 1","day":541.1,"n":2.74},{"farm":"Farm 1","day":542.7,"n":2.83},{"farm":"Farm 1","day":544.2,"n":2.74},{"farm":"Farm 1","day":545.8,"n":2.86},{"farm":"Farm 1","day":546.7,"n":2.81},{"farm":"Farm 1","day":547.3,"n":2.11},{"farm":"Farm 1","day":547.9,"n":2.36},{"farm":"Farm 1","day":548.8,"n":2.22},{"farm":"Farm 1","day":551,"n":2.04},{"farm":"Farm 1","day":552.9,"n":1.77},{"farm":"Farm 1","day":554.1,"n":1.61},{"farm":"Farm 1","day":556,"n":1.24},{"farm":"Farm 1","day":557.2,"n":1.29},{"farm":"Farm 1","day":559,"n":1.38},{"farm":"Farm 1","day":561.2,"n":1.49},{"farm":"Farm 1","day":563.3,"n":1.54},{"farm":"Farm 1","day":565.8,"n":1.58},{"farm":"Farm 1","day":568.3,"n":1.74},{"farm":"Farm 1","day":570.4,"n":1.79},{"farm":"Farm 1","day":572.6,"n":1.81},{"farm":"Farm 1","day":574.4,"n":1.84},{"farm":"Farm 1","day":575.7,"n":1.79},{"farm":"Farm 1","day":577.5,"n":1.86},{"farm":"Farm 1","day":579.7,"n":1.9},{"farm":"Farm 1","day":581.8,"n":1.95},{"farm":"Farm 1","day":583.7,"n":1.99},{"farm":"Farm 1","day":585.8,"n":2.04},{"farm":"Farm 1","day":587.4,"n":2.08},{"farm":"Farm 1","day":589.8,"n":2.11},{"farm":"Farm 1","day":592,"n":2.13},{"farm":"Farm 1","day":593.6,"n":2.11},{"farm":"Farm 1","day":595.1,"n":2.15},{"farm":"Farm 1","day":597.3,"n":2.08},{"farm":"Farm 1","day":599.7,"n":2.06},{"farm":"Farm 1","day":602.2,"n":2.11},{"farm":"Farm 1","day":604.3,"n":2.13},{"farm":"Farm 1","day":606.5,"n":2.17},{"farm":"Farm 1","day":609,"n":2.2},{"farm":"Farm 1","day":612,"n":2.22},{"farm":"Farm 1","day":614.5,"n":2.24},{"farm":"Farm 1","day":616.7,"n":2.23},{"farm":"Farm 1","day":618.8,"n":2.26},{"farm":"Farm 1","day":621.3,"n":2.22},{"farm":"Farm 1","day":622.8,"n":2.29},{"farm":"Farm 1","day":623.8,"n":2.13},{"farm":"Farm 1","day":625,"n":2.17},{"farm":"Farm 1","day":625.9,"n":1.9},{"farm":"Farm 1","day":626.9,"n":1.57},{"farm":"Farm 1","day":628.1,"n":1.58},{"farm":"Farm 1","day":629,"n":2.29},{"farm":"Farm 1","day":629.9,"n":2.78},{"farm":"Farm 1","day":631.2,"n":2.58},{"farm":"Farm 1","day":633,"n":2.72},{"farm":"Farm 1","day":634.3,"n":2.7},{"farm":"Farm 1","day":636.1,"n":2.72},{"farm":"Farm 1","day":638.2,"n":2.74},{"farm":"Farm 1","day":639.2,"n":2.36},{"farm":"Farm 1","day":640.4,"n":2.76},{"farm":"Farm 1","day":642.3,"n":2.72},{"farm":"Farm 1","day":644.4,"n":2.74},{"farm":"Farm 1","day":646.6,"n":2.72},{"farm":"Farm 1","day":647.8,"n":2.54},{"farm":"Farm 1","day":649,"n":1.61},{"farm":"Farm 1","day":650.6,"n":1.79},{"farm":"Farm 1","day":652.1,"n":2.04},{"farm":"Farm 1","day":653.7,"n":2.13},{"farm":"Farm 1","day":655.2,"n":2.27},{"farm":"Farm 1","day":656.8,"n":2.51},{"farm":"Farm 1","day":658.9,"n":2.61},{"farm":"Farm 1","day":661.4,"n":2.65},{"farm":"Farm 1","day":663,"n":2.65},{"farm":"Farm 1","day":665.1,"n":2.7},{"farm":"Farm 1","day":667.6,"n":2.66},{"farm":"Farm 1","day":670,"n":2.63},{"farm":"Farm 1","day":672.2,"n":2.66},{"farm":"Farm 1","day":674.3,"n":2.61},{"farm":"Farm 1","day":676.8,"n":2.68},{"farm":"Farm 1","day":679.3,"n":2.6},{"farm":"Farm 1","day":681.4,"n":2.65},{"farm":"Farm 1","day":683.6,"n":2.63},{"farm":"Farm 1","day":686.1,"n":2.57},{"farm":"Farm 1","day":688.5,"n":2.54},{"farm":"Farm 1","day":690.7,"n":2.49},{"farm":"Farm 1","day":693.8,"n":2.5},{"farm":"Farm 1","day":695.3,"n":2.58},{"farm":"Farm 1","day":697.8,"n":2.56},{"farm":"Farm 1","day":700,"n":2.54},{"farm":"Farm 1","day":701.5,"n":2.58},{"farm":"Farm 1","day":703,"n":2.73},{"farm":"Farm 1","day":705.2,"n":2.74},{"farm":"Farm 1","day":707,"n":2.67},{"farm":"Farm 1","day":709.2,"n":2.7},{"farm":"Farm 1","day":710.7,"n":2.61},{"farm":"Farm 1","day":712.3,"n":2.63},{"farm":"Farm 1","day":713.8,"n":2.58},{"farm":"Farm 1","day":715.4,"n":2.49},{"farm":"Farm 1","day":716.9,"n":2.63},{"farm":"Farm 1","day":718.4,"n":2.54},{"farm":"Farm 1","day":720,"n":2.43},{"farm":"Farm 1","day":721.5,"n":2.45},{"farm":"Farm 1","day":723.7,"n":2.47},{"farm":"Farm 1","day":726.1,"n":2.52},{"farm":"Farm 1","day":728.6,"n":2.52},{"farm":"Farm 1","day":729.2,"n":2.45},{"farm":"Farm 1","day":730.8,"n":2.17},{"farm":"Farm 1","day":731.7,"n":1.9},{"farm":"Farm 1","day":732.9,"n":1.87},{"farm":"Farm 1","day":734.8,"n":1.88},{"farm":"Farm 1","day":736,"n":1.9},{"farm":"Farm 1","day":738.5,"n":1.99},{"farm":"Farm 1","day":740.9,"n":2.06},{"farm":"Farm 1","day":743,"n":2.08},{"farm":"Farm 1","day":745.3,"n":2.04},{"farm":"Farm 1","day":747.1,"n":2.11},{"farm":"Farm 1","day":749.3,"n":2.13},{"farm":"Farm 1","day":751.4,"n":2.13},{"farm":"Farm 1","day":753.2,"n":2.04},{"farm":"Farm 1","day":754.5,"n":1.97},{"farm":"Farm 1","day":756.4,"n":1.94},{"farm":"Farm 1","day":758.5,"n":2.02},{"farm":"Farm 1","day":760.7,"n":2},{"farm":"Farm 1","day":762.5,"n":2.06},{"farm":"Farm 1","day":764.7,"n":2},{"farm":"Farm 1","day":766.2,"n":2.04},{"farm":"Farm 1","day":767.8,"n":2.31},{"farm":"Farm 1","day":768.7,"n":2.54},{"farm":"Farm 1","day":769.9,"n":2.47},{"farm":"Farm 1","day":771.8,"n":2.31},{"farm":"Farm 1","day":773,"n":2.47},{"farm":"Farm 1","day":774.9,"n":2.43},{"farm":"Farm 1","day":777,"n":2.58},{"farm":"Farm 1","day":777.9,"n":2.52},{"farm":"Farm 1","day":779.2,"n":2.27},{"farm":"Farm 1","day":781,"n":2.33},{"farm":"Farm 1","day":783.2,"n":2.4},{"farm":"Farm 1","day":785.3,"n":2.38},{"farm":"Farm 1","day":787.2,"n":2.45},{"farm":"Farm 1","day":789.4,"n":2.47},{"farm":"Farm 1","day":792.4,"n":2.46},{"farm":"Farm 1","day":793.4,"n":1.9},{"farm":"Farm 1","day":794.6,"n":1.45},{"farm":"Farm 1","day":796.4,"n":1.37},{"farm":"Farm 1","day":798.6,"n":1.4},{"farm":"Farm 1","day":800.1,"n":1.45},{"farm":"Farm 1","day":802.6,"n":1.46},{"farm":"Farm 1","day":804.8,"n":1.51},{"farm":"Farm 1","day":806.9,"n":1.61},{"farm":"Farm 1","day":808.8,"n":1.67},{"farm":"Farm 1","day":810.9,"n":1.74},{"farm":"Farm 1","day":813.1,"n":1.77},{"farm":"Farm 1","day":815.6,"n":1.81},{"farm":"Farm 1","day":818,"n":1.86},{"farm":"Farm 1","day":820.2,"n":1.9},{"farm":"Farm 1","day":822.4,"n":1.92},{"farm":"Farm 1","day":824.8,"n":1.97},{"farm":"Farm 1","day":827.3,"n":2.02},{"farm":"Farm 1","day":829.4,"n":2.04},{"farm":"Farm 1","day":831,"n":1.81},{"farm":"Farm 1","day":831.6,"n":2.08},{"farm":"Farm 1","day":832.8,"n":2.45},{"farm":"Farm 1","day":834.1,"n":2.7},{"farm":"Farm 1","day":836.2,"n":2.7},{"farm":"Farm 1","day":837.8,"n":2.4},{"farm":"Farm 1","day":838.4,"n":1.61},{"farm":"Farm 1","day":839.6,"n":1.68},{"farm":"Farm 1","day":840.8,"n":2.06},{"farm":"Farm 1","day":841.4,"n":1.79},{"farm":"Farm 1","day":842.7,"n":0.4},{"farm":"Farm 1","day":843.9,"n":0.88},{"farm":"Farm 1","day":845.8,"n":1.11},{"farm":"Farm 1","day":847.3,"n":1.33},{"farm":"Farm 1","day":848.9,"n":1.4},{"farm":"Farm 1","day":851,"n":1.49},{"farm":"Farm 1","day":852.5,"n":1.54},{"farm":"Farm 1","day":854,"n":1.45},{"farm":"Farm 1","day":855.6,"n":1.58},{"farm":"Farm 1","day":858.1,"n":1.63},{"farm":"Farm 1","day":860.3,"n":1.7},{"farm":"Farm 1","day":862.4,"n":1.66},{"farm":"Farm 1","day":864.3,"n":1.68},{"farm":"Farm 1","day":865.5,"n":1.56},{"farm":"Farm 1","day":867.3,"n":1.66},{"farm":"Farm 1","day":869.5,"n":1.7},{"farm":"Farm 1","day":872.6,"n":1.79},{"farm":"Farm 1","day":874.7,"n":1.86},{"farm":"Farm 1","day":876.6,"n":1.9},{"farm":"Farm 1","day":878.8,"n":1.92},{"farm":"Farm 1","day":881,"n":1.95},{"farm":"Farm 1","day":883.4,"n":2.02},{"farm":"Farm 1","day":885.8,"n":2.06},{"farm":"Farm 1","day":888,"n":2.08},{"farm":"Farm 1","day":889,"n":2.11},{"farm":"Farm 1","day":891.2,"n":2.13},{"farm":"Farm 1","day":893.3,"n":2.15},{"farm":"Farm 1","day":895.7,"n":2.2},{"farm":"Farm 1","day":898.2,"n":2.19},{"farm":"Farm 1","day":900.4,"n":2.22},{"farm":"Farm 1","day":902.5,"n":2.25},{"farm":"Farm 1","day":905,"n":2.29},{"farm":"Farm 1","day":906.5,"n":2.2},{"farm":"Farm 1","day":907.4,"n":1.99},{"farm":"Farm 1","day":908.7,"n":1.95},{"farm":"Farm 1","day":910.5,"n":1.86},{"farm":"Farm 1","day":911.8,"n":1.95},{"farm":"Farm 1","day":913,"n":2.58},{"farm":"Farm 1","day":914.2,"n":2.72},{"farm":"Farm 1","day":915.8,"n":2.74},{"farm":"Farm 1","day":916.7,"n":2.77},{"farm":"Farm 1","day":917.3,"n":2.36},{"farm":"Farm 1","day":918.6,"n":2.74},{"farm":"Farm 1","day":919.5,"n":2.88},{"farm":"Farm 1","day":920.4,"n":2.52},{"farm":"Farm 1","day":921,"n":2.02},{"farm":"Farm 1","day":921.9,"n":1.31},{"farm":"Farm 1","day":922.9,"n":1.33},{"farm":"Farm 1","day":924.1,"n":2.02},{"farm":"Farm 1","day":925,"n":2.74},{"farm":"Farm 1","day":925.9,"n":2.13},{"farm":"Farm 1","day":927.2,"n":2},{"farm":"Farm 1","day":929,"n":2.22},{"farm":"Farm 1","day":931.2,"n":2.31},{"farm":"Farm 1","day":933.3,"n":2.43},{"farm":"Farm 1","day":935.8,"n":2.49},{"farm":"Farm 1","day":938.3,"n":2.56},{"farm":"Farm 1","day":940.4,"n":2.61},{"farm":"Farm 1","day":942.6,"n":2.63},{"farm":"Farm 1","day":944.4,"n":2.65},{"farm":"Farm 1","day":946.6,"n":2.6},{"farm":"Farm 1","day":948.7,"n":2.64},{"farm":"Farm 1","day":951.2,"n":2.65},{"farm":"Farm 1","day":953.7,"n":2.61},{"farm":"Farm 1","day":954.9,"n":2.56},{"farm":"Farm 1","day":956.8,"n":2.6},{"farm":"Farm 1","day":958.9,"n":2.61},{"farm":"Farm 1","day":960.5,"n":2.63},{"farm":"Farm 1","day":962.9,"n":2.58},{"farm":"Farm 1","day":964.2,"n":2.56},{"farm":"Farm 1","day":966,"n":2.49},{"farm":"Farm 1","day":968.2,"n":2.45},{"farm":"Farm 1","day":970.6,"n":2.43},{"farm":"Farm 1","day":972.8,"n":2.38},{"farm":"Farm 1","day":975.9,"n":2.38},{"farm":"Farm 1","day":977.4,"n":2.36},{"farm":"Farm 1","day":979,"n":2.25},{"farm":"Farm 1","day":980.5,"n":1.93},{"farm":"Farm 1","day":981.4,"n":1.74},{"farm":"Farm 1","day":983.6,"n":1.81},{"farm":"Farm 1","day":985.8,"n":1.86},{"farm":"Farm 1","day":988.2,"n":1.9},{"farm":"Farm 1","day":990.7,"n":1.95},{"farm":"Farm 1","day":992.8,"n":1.97},{"farm":"Farm 1","day":995,"n":1.99},{"farm":"Farm 1","day":996.9,"n":1.95},{"farm":"Farm 1","day":999,"n":2.01},{"farm":"Farm 1","day":1001.2,"n":2.04},{"farm":"Farm 1","day":1004.3,"n":2.08},{"farm":"Farm 1","day":1006.7,"n":2.13},{"farm":"Farm 1","day":1008.3,"n":2.17},{"farm":"Farm 1","day":1009.2,"n":2.06},{"farm":"Farm 1","day":1009.8,"n":1.56},{"farm":"Farm 1","day":1011.3,"n":0.99},{"farm":"Farm 1","day":1012.9,"n":0.99},{"farm":"Farm 1","day":1014.4,"n":1.56},{"farm":"Farm 1","day":1016.6,"n":1.72},{"farm":"Farm 1","day":1017.8,"n":2.86},{"farm":"Farm 1","day":1019.7,"n":2.84},{"farm":"Farm 1","day":1021.5,"n":2.77},{"farm":"Farm 1","day":1023.7,"n":2.72},{"farm":"Farm 1","day":1026.8,"n":2.72},{"farm":"Farm 1","day":1029.8,"n":2.73},{"farm":"Farm 1","day":1032.9,"n":2.74},{"farm":"Farm 1","day":1035,"n":2.72},{"farm":"Farm 1","day":1036,"n":2.66},{"farm":"Farm 1","day":1039.1,"n":2.62},{"farm":"Farm 1","day":1042.2,"n":2.59},{"farm":"Farm 1","day":1044.3,"n":2.52},{"farm":"Farm 1","day":1046.1,"n":2.56},{"farm":"Farm 1","day":1048.3,"n":2.54},{"farm":"Farm 1","day":1049.9,"n":2.54},{"farm":"Farm 1","day":1050.5,"n":1.9},{"farm":"Farm 1","day":1051.4,"n":1.66},{"farm":"Farm 1","day":1053,"n":2.06},{"farm":"Farm 1","day":1054.5,"n":2.31},{"farm":"Farm 1","day":1056.1,"n":2.33},{"farm":"Farm 1","day":1057.6,"n":2.29},{"farm":"Farm 1","day":1059.1,"n":2.45},{"farm":"Farm 1","day":1060.7,"n":2.47},{"farm":"Farm 1","day":1061.6,"n":2.06},{"farm":"Farm 1","day":1062.8,"n":2.2},{"farm":"Farm 1","day":1064.7,"n":2.27},{"farm":"Farm 1","day":1066.8,"n":2.31},{"farm":"Farm 1","day":1068.4,"n":2.36},{"farm":"Farm 1","day":1069.9,"n":2.38},{"farm":"Farm 1","day":1072.1,"n":2.4},{"farm":"Farm 1","day":1073.9,"n":2.45},{"farm":"Farm 1","day":1076.1,"n":2.52},{"farm":"Farm 1","day":1077.6,"n":2.56},{"farm":"Farm 1","day":1079.2,"n":2.54},{"farm":"Farm 1","day":1080.7,"n":1.42},{"farm":"Farm 1","day":1082.3,"n":1.61},{"farm":"Farm 1","day":1083.8,"n":2},{"farm":"Farm 1","day":1085.3,"n":2.31},{"farm":"Farm 1","day":1086.9,"n":2.36},{"farm":"Farm 1","day":1088.4,"n":2.71},{"farm":"Farm 1","day":1090,"n":2.68},{"farm":"Farm 1","day":1091.5,"n":2.63},{"farm":"Farm 1","day":1093.1,"n":2.67},{"farm":"Farm 1","day":1093.7,"n":2.38},{"farm":"Farm 1","day":1095.5,"n":2.4},{"farm":"Farm 1","day":1096.1,"n":2.49},{"farm":"Farm 1","day":1098,"n":2.43}
]},
"mark": {"type": "line", "interpolate": "linear", "strokeJoin": "round", "strokeCap": "butt"},
"encoding": {
  "x": {"field": "day", "type": "quantitative",
    "scale": {"domain": [0, 1098], "nice": false, "zero": false},
    "axis": {"values": [0,30.5,61,91.5,122,152.5,183,213.5,244,274.5,305,335.5,366,396.5,427,457.5,488,518.5,549,579.5,610,640.5,671,701.5,732,762.5,793,823.5,854,884.5,915,945.5,976,1006.5,1037,1067.5,1098],
      "labelExpr": "datum.value % 366 === 0 ? format(datum.value, 'd') : ''",
      "grid": false, "domainColor": "#8c8c8c", "domainWidth": 1, "tickColor": "#8c8c8c", "tickWidth": 1,
      "tickSize": {"condition": {"test": "datum.value % 366 === 0", "value": 10}, "value": 5},
      "labelFontSize": 23, "labelColor": "#000000", "labelFont": "DejaVu Sans", "labelPadding": 23, "labelFlush": false, "labelOverlap": false,
      "labelOffset": {"condition": {"test": "datum.value === 1098", "value": -4}, "value": 0},
      "title": "Time (days)", "titleFont": "DejaVu Sans", "titleFontSize": 24, "titleFontWeight": "normal", "titleColor": "#000000",
      "titleAnchor": "end", "titleAlign": "right", "titleX": 1210, "titleY": 77, "titleBaseline": "alphabetic"}},
  "y": {"field": "n", "type": "quantitative",
    "scale": {"domain": [0, 3.5], "nice": false, "zero": true},
    "axis": {"values": [0, 1, 2, 3], "ticks": false, "tickSize": 0, "domainColor": "#8c8c8c", "domainWidth": 1,
      "grid": true, "gridColor": "#cccccc", "gridWidth": 1,
      "labelFontSize": 23, "labelColor": "#000000", "labelFont": "DejaVu Sans", "labelPadding": 19, "labelFlush": false,
      "title": "(gN kg⁻¹)", "titleFont": "DejaVu Sans", "titleFontSize": 18, "titleFontWeight": "normal", "titleColor": "#000000",
      "titleAngle": 0, "titleAlign": "left", "titleBaseline": "alphabetic", "titleX": 305, "titleY": -21}},
  "color": {"field": "farm", "type": "nominal",
    "scale": {"domain": ["Farm 1", "Farm 2"], "range": ["#000000", "#888888"]},
    "legend": {"title": null, "orient": "none", "legendX": 586, "legendY": 458, "padding": 0, "symbolType": "stroke", "symbolSize": 1936, "labelFontSize": 25, "labelFont": "DejaVu Sans", "labelColor": "#000000", "labelOffset": 3, "rowPadding": 4}},
  "strokeWidth": {"field": "farm", "type": "nominal",
    "scale": {"domain": ["Farm 1", "Farm 2"], "range": [3.5, 1.3]},
    "legend": {"title": null, "orient": "none", "legendX": 586, "legendY": 458, "padding": 0, "symbolType": "stroke", "symbolSize": 1936, "labelFontSize": 25, "labelFont": "DejaVu Sans", "labelColor": "#000000", "labelOffset": 3, "rowPadding": 4}}
}
}
